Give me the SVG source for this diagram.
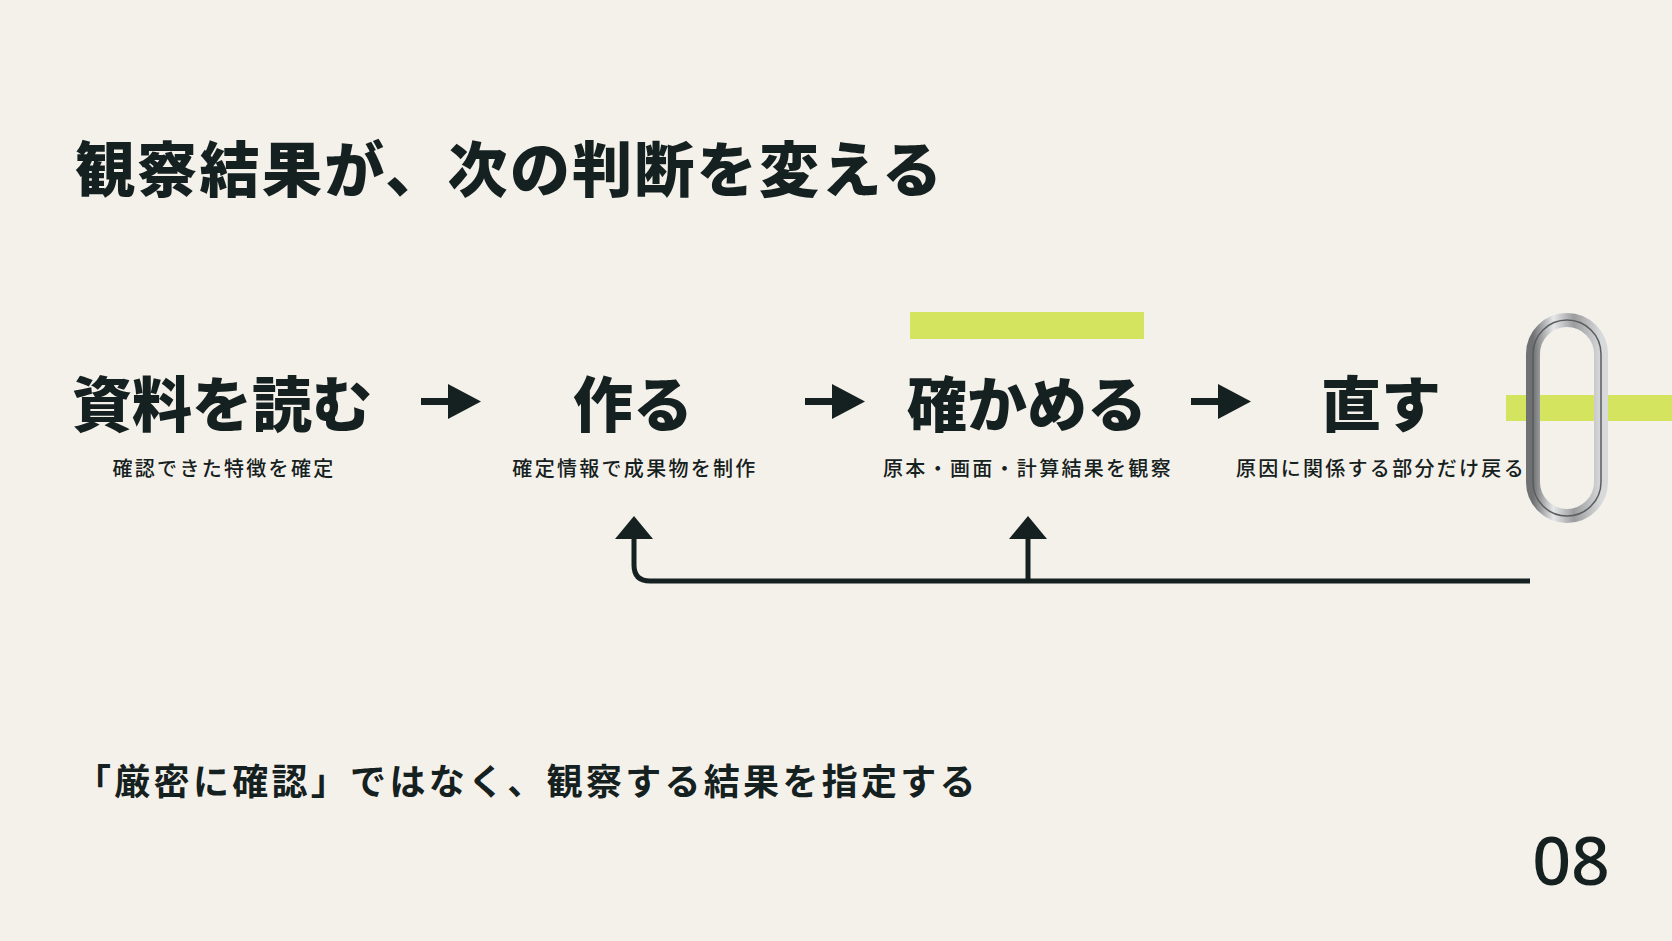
<svg xmlns="http://www.w3.org/2000/svg" width="1672" height="941" viewBox="0 0 1672 941">
<style>
text{font-family:"Noto Sans CJK JP","Noto Sans",sans-serif;fill:#152020;font-weight:700}
.step{font-size:60px;text-anchor:middle;font-weight:900}
.sub{font-size:20px;text-anchor:middle;font-weight:500;letter-spacing:2.3px}
.num{font-family:"Noto Sans",sans-serif;font-weight:500;font-size:68px;text-anchor:end}
.ar{fill:#152020}
</style>
<defs>
<linearGradient id="metal" x1="0" x2="1" y1="0" y2="0">
<stop offset="0" stop-color="#6f7173"/><stop offset="0.3" stop-color="#e6e7e8"/><stop offset="0.6" stop-color="#9a9c9e"/><stop offset="1" stop-color="#d8d9da"/>
</linearGradient>
</defs>
<rect width="1672" height="941" fill="#f4f1ea"/>
<text x="75" y="192" font-size="60" style="font-weight:900" letter-spacing="2.3">観察結果が、次の判断を変える</text>
<rect x="910" y="312" width="234" height="27" fill="#d4e45f"/>
<g id="n1"><text class="step" x="222" y="427">資料を読む</text><text class="sub" x="224" y="476">確認できた特徴を確定</text></g>
<g id="n2"><text class="step" x="633" y="427">作る</text><text class="sub" x="635" y="476">確定情報で成果物を制作</text></g>
<g id="n3"><text class="step" x="1027" y="427">確かめる</text><text class="sub" x="1028" y="476">原本・画面・計算結果を観察</text></g>
<g id="n4"><text class="step" x="1381" y="427">直す</text><text class="sub" x="1381" y="476">原因に関係する部分だけ戻る</text></g>
<g id="connectors">
<g class="ar">
<rect x="421" y="398" width="36" height="7"/><path d="M448 384 L481 401.5 L448 419 Z"/>
<rect x="805" y="398" width="36" height="7"/><path d="M832 384 L865 401.5 L832 419 Z"/>
<rect x="1191" y="398" width="36" height="7"/><path d="M1218 384 L1251 401.5 L1218 419 Z"/>
</g>
<path d="M1530 581 H650 Q634 581 634 565 V535" fill="none" stroke="#152020" stroke-width="5"/>
<path d="M1028 581 V535" fill="none" stroke="#152020" stroke-width="5"/>
<path class="ar" d="M615 539 L634 516 L653 539 Z"/>
<path class="ar" d="M1009 539 L1028 516 L1047 539 Z"/>
</g>
<rect x="1506" y="395" width="166" height="26" fill="#d4e45f"/>
<g id="clip">
<rect x="1533" y="320" width="68" height="196" rx="34" fill="none" stroke="url(#metal)" stroke-width="14"/>
<rect x="1533" y="320" width="68" height="196" rx="34" fill="none" stroke="#5a5c5e" stroke-width="1.5"/>
</g>
<text x="75" y="795" font-size="36" letter-spacing="3.3">「厳密に確認」ではなく、観察する結果を指定する</text>
<text class="num" x="1610" y="885">08</text>
</svg>
